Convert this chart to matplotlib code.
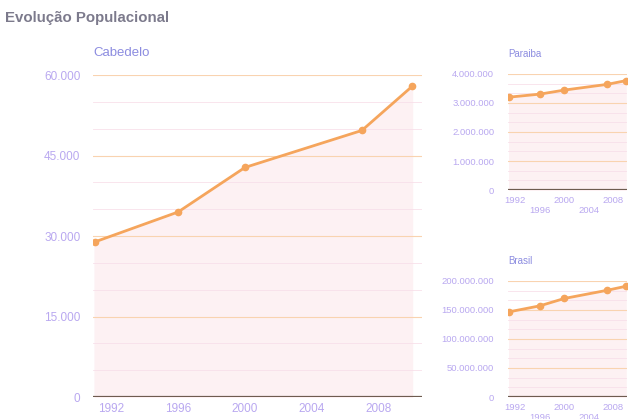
# Evolução Populacional - Cabedelo / Paraiba / Brasil
import matplotlib
matplotlib.use('Agg')
import matplotlib.pyplot as plt
from matplotlib.ticker import FuncFormatter

plt.rcParams['font.family'] = ['Liberation Sans', 'DejaVu Sans']

anos = [1991, 1996, 2000, 2007, 2010]
cabedelo = [28900, 34500, 42800, 49700, 57900]
paraiba = [3201000, 3305000, 3444000, 3641000, 3767000]
brasil = [146800000, 157100000, 169800000, 183900000, 190700000]

cab_ticks = [0, 15000, 30000, 45000, 60000]
par_ticks = [0, 1000000, 2000000, 3000000, 4000000]
bra_ticks = [0, 50000000, 100000000, 150000000, 200000000]
anos_ticks = [1992, 1996, 2000, 2004, 2008]

laranja = '#f5a55c'
titulo_cor = '#8c8ce0'
tick_cor = '#b9a8f0'

fmt = FuncFormatter(lambda v, p: f'{int(v):,}'.replace(',', '.'))


def desenha(ax, y, yticks, titulo, fs, stagger, xlim):
    ax.fill_between(anos, y, 0, color='#fdf1f3', zorder=0)
    ax.plot(anos, y, color=laranja, lw=2, marker='o', ms=4.5, zorder=3)
    ax.set_xlim(*xlim)
    ax.set_ylim(0, yticks[-1])
    ax.set_yticks(yticks)
    ax.yaxis.set_major_formatter(fmt)
    ax.set_xticks(anos_ticks)
    if stagger:
        ax.set_xticklabels([str(a) if i % 2 == 0 else '\n' + str(a)
                            for i, a in enumerate(anos_ticks)])
    else:
        ax.set_xticklabels([str(a) for a in anos_ticks])
    for s in ax.spines.values():
        s.set_visible(False)
    ax.tick_params(length=0, labelsize=fs, colors=tick_cor, pad=4)
    ax.tick_params(axis='y', pad=10 if stagger else 9)
    ax.grid(axis='y', color='#f9d3b0', lw=0.8, zorder=1)
    # linhas intermediarias fracas
    passo = yticks[1] / 3
    for k in range(1, 3 * (len(yticks) - 1)):
        if k % 3:
            ax.axhline(k * passo, color='#f8e0ea', lw=0.6, zorder=1)
    ax.axhline(0, color='#6e5c50', lw=1.6, zorder=2)
    ax.set_title(titulo, loc='left', color=titulo_cor,
                 fontsize=9.5 if not stagger else 7,
                 pad=14 if not stagger else 12, x=0.0)


fig = plt.figure(figsize=(6.28, 4.19), dpi=100)
fig.patch.set_facecolor('white')

ax1 = fig.add_axes([0.148, 0.0525, 0.524, 0.768])
desenha(ax1, cabedelo, cab_ticks, 'Cabedelo', 8.5, False, (1990.9, 2010.6))

ax2 = fig.add_axes([0.809, 0.5465, 0.19, 0.277])
desenha(ax2, paraiba, par_ticks, 'Paraiba', 6.8, True, (1990.8, 2010.3))

ax3 = fig.add_axes([0.809, 0.0525, 0.19, 0.277])
desenha(ax3, brasil, bra_ticks, 'Brasil', 6.8, True, (1990.8, 2010.3))

fig.text(0.008, 0.957, 'Evolução Populacional', fontsize=10.8, fontweight='bold',
         color='#7c7a8c', va='center', ha='left')

fig.savefig('out.png', dpi=100)
